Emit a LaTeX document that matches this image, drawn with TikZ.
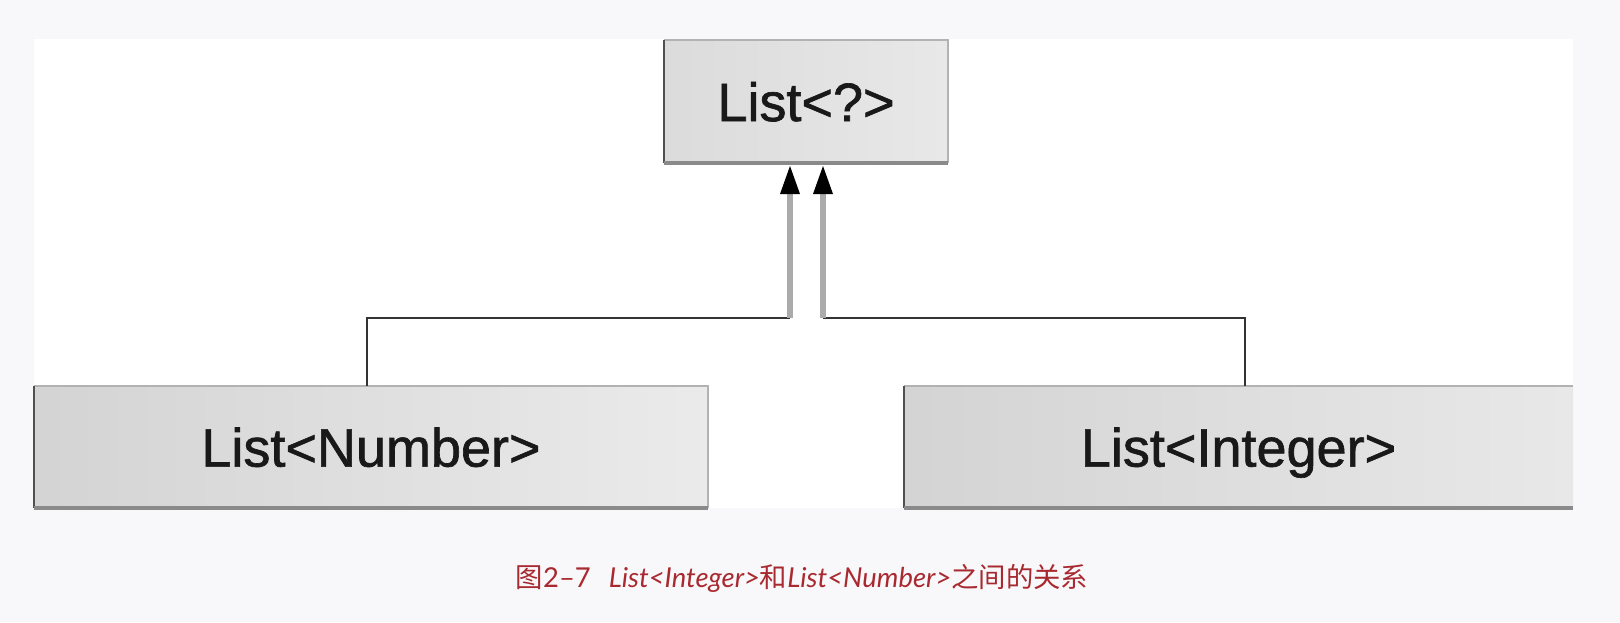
\documentclass[tikz,border=0pt]{standalone}
\usepackage{fontspec}
\setmainfont{Liberation Sans}
\newfontfamily\boxfont[FakeBold=1.2]{Liberation Sans}
\newfontfamily\cjk{Noto Sans CJK SC}
\newfontfamily\capfont{Lato}
\usetikzlibrary{arrows.meta}
\definecolor{bg}{HTML}{F8F8FA}
\definecolor{capred}{HTML}{A8292F}
\definecolor{edgedark}{HTML}{505050}
\definecolor{shadowgray}{HTML}{8A8A8A}
\definecolor{linegray}{HTML}{ABABAB}
\tikzset{
  boxnode/.style={inner sep=0pt, outer sep=0pt, text depth=0pt, font=\boxfont\fontsize{27}{30}\selectfont, text=black!90},
  leftedge/.style={draw=edgedark, line width=1pt},
  bottomedge/.style={draw=shadowgray, line width=2pt},
  topedge/.style={draw=black!30, line width=0.6pt},
  wire/.style={draw=black!80, line width=1.4pt},
  riser/.style={draw=linegray, line width=2.6pt, -{Triangle[width=10pt,length=14pt,line width=0pt,fill=black,color=black]}},
}
\begin{document}
\begin{tikzpicture}[x=0.5pt,y=-0.5pt]
\useasboundingbox (0,0) rectangle (1620,622);
\fill[bg] (0,0) rectangle (1620,622);
\fill[white] (34,39) rectangle (1573,508);

% boxes
\node[boxnode, minimum width=142pt, minimum height=61.5pt, left color=black!14, right color=black!9] (top) at (806,101.5) {List<?>};
\node[boxnode, minimum width=337pt, minimum height=61pt, left color=black!17, right color=black!8] (num) at (371,447) {List<Number>};
\node[boxnode, minimum width=334.5pt, minimum height=61pt, left color=black!17, right color=black!9] (int) at (1238.5,447) {List<Integer>};

% box edges
\draw[topedge] (top.north west) -- (top.north east) -- (top.south east);
\draw[topedge] (num.north west) -- (num.north east) -- (num.south east);
\draw[topedge] (int.north west) -- (int.north east);
\draw[leftedge] (top.north west) -- (top.south west);
\draw[leftedge] (num.north west) -- (num.south west);
\draw[leftedge] (int.north west) -- (int.south west);
\draw[bottomedge] (top.south west) -- (top.south east);
\draw[bottomedge] (num.south west) -- (num.south east);
\draw[bottomedge] (int.south west) -- (int.south east);

% connectors
\coordinate (jl) at (790,318);
\coordinate (jr) at (823,318);
\coordinate (tl) at (790,166);
\coordinate (tr) at (823,166);
\draw[wire] (num.north -| 367,0) -- (367,318) -- (jl);
\draw[wire] (int.north -| 1245,0) -- (1245,318) -- (jr);
\draw[riser] (jl) -- (tl);
\draw[riser] (jr) -- (tr);

% caption
\node[inner sep=0pt, text=capred, font=\capfont\fontsize{13.7}{16}\selectfont] (cap) at (802,578)
  {{\cjk 图}2–7\hspace{9pt}{\itshape List<Integer>}{\cjk 和}{\itshape List<Number>}{\cjk 之间的关系}};
\end{tikzpicture}
\end{document}
